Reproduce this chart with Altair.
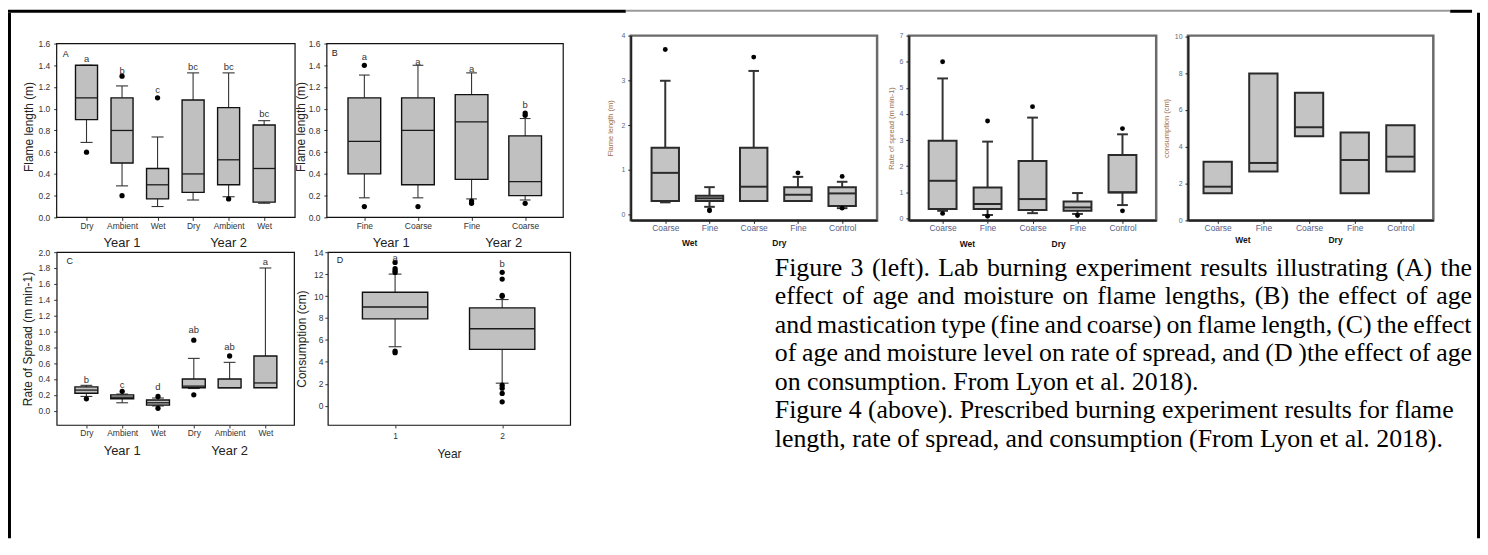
import altair as alt
import pandas as pd

SANS = "Liberation Sans"
SERIF = "Liberation Serif"

# ---------------- Figure 3 (A) flame length, year x moisture ----------------
A_pos = [1, 2, 3, 4, 5, 6]
A_cat = ["Dry", "Ambient", "Wet", "Dry", "Ambient", "Wet"]
A_lw = [0.69, 0.29, 0.10, 0.16, 0.19, 0.13]
A_q1 = [0.90, 0.50, 0.17, 0.23, 0.30, 0.14]
A_med = [1.10, 0.80, 0.30, 0.40, 0.53, 0.45]
A_q3 = [1.40, 1.10, 0.45, 1.08, 1.01, 0.85]
A_uw = [1.40, 1.21, 0.74, 1.33, 1.33, 0.89]
A_out_pos = [1, 2, 2, 3, 5]
A_out_val = [0.60, 0.20, 1.30, 1.10, 0.17]
A_let = ["a", "b", "c", "bc", "bc", "bc"]
A_let_y = [1.46, 1.35, 1.17, 1.38, 1.38, 0.95]
A_years = ["Year 1", "Year 2"]
A_year_pos = [2, 5]

# ---------------- Figure 3 (B) flame length, year x mastication ----------------
B_pos = [1, 2, 3, 4]
B_cat = ["Fine", "Coarse", "Fine", "Coarse"]
B_lw = [0.18, 0.18, 0.17, 0.16]
B_q1 = [0.40, 0.30, 0.35, 0.20]
B_med = [0.70, 0.80, 0.88, 0.33]
B_q3 = [1.10, 1.10, 1.13, 0.75]
B_uw = [1.31, 1.40, 1.33, 0.91]
B_out_pos = [1, 1, 2, 3, 3, 4, 4, 4]
B_out_val = [0.10, 1.40, 0.10, 0.15, 0.13, 0.13, 0.94, 0.96]
B_let = ["a", "a", "a", "b"]
B_let_y = [1.48, 1.43, 1.37, 1.03]
B_years = ["Year 1", "Year 2"]
B_year_pos = [1.5, 3.6]

# ---------------- Figure 3 (C) rate of spread ----------------
C_pos = [1, 2, 3, 4, 5, 6]
C_cat = ["Dry", "Ambient", "Wet", "Dry", "Ambient", "Wet"]
C_lw = [0.18, 0.10, 0.06, 0.28, 0.30, 0.30]
C_q1 = [0.22, 0.15, 0.07, 0.29, 0.29, 0.29]
C_med = [0.26, 0.17, 0.10, 0.31, 0.29, 0.35]
C_q3 = [0.30, 0.20, 0.135, 0.40, 0.40, 0.69]
C_uw = [0.32, 0.21, 0.16, 0.66, 0.61, 1.80]
C_out_pos = [1, 2, 3, 3, 4, 4, 5]
C_out_val = [0.15, 0.245, 0.18, 0.03, 0.20, 0.89, 0.69]
C_let = ["b", "c", "d", "ab", "ab", "a"]
C_let_y = [0.39, 0.32, 0.30, 1.02, 0.80, 1.87]
C_years = ["Year 1", "Year 2"]
C_year_pos = [2, 5]

# ---------------- Figure 3 (D) consumption ----------------
D_pos = [1, 2]
D_cat = ["1", "2"]
D_lw = [5.38, 2.06]
D_q1 = [7.92, 5.14]
D_med = [9.00, 7.02]
D_q3 = [10.34, 8.92]
D_uw = [12.00, 9.68]
D_out_pos = [1, 1, 1, 1, 1, 1, 2, 2, 2, 2, 2, 2, 2, 2]
D_out_val = [4.84, 4.99, 12.15, 12.30, 12.49, 13.06,
             0.36, 1.12, 1.60, 1.87, 9.98, 10.07, 11.55, 12.16]
D_let = ["a", "b"]
D_let_y = [13.5, 12.9]

# ---------------- Figure 4 (prescribed burns) ----------------
F_pos = [1, 2, 3, 4, 5]
F_cat = ["Coarse", "Fine", "Coarse", "Fine", "Control"]
F_groups = ["Wet", "Dry"]
F_group_pos = [1.55, 3.58]

P1_lw = [0.27, 0.17, 0.30, 0.30, 0.14]
P1_q1 = [0.30, 0.30, 0.30, 0.30, 0.19]
P1_med = [0.93, 0.36, 0.62, 0.44, 0.47]
P1_q3 = [1.49, 0.42, 1.49, 0.61, 0.61]
P1_uw = [2.99, 0.61, 3.21, 0.84, 0.73]
P1_out_pos = [1, 2, 2, 3, 4, 5, 5]
P1_out_val = [3.69, 0.10, 0.08, 3.52, 0.93, 0.85, 0.14]

P2_lw = [0.29, 0.13, 0.20, 0.17, 0.51]
P2_q1 = [0.36, 0.36, 0.32, 0.29, 0.99]
P2_med = [1.44, 0.55, 0.74, 0.42, 1.00]
P2_q3 = [2.97, 1.18, 2.20, 0.65, 2.43]
P2_uw = [5.36, 2.94, 3.86, 0.97, 3.22]
P2_out_pos = [1, 1, 2, 2, 3, 4, 5, 5]
P2_out_val = [6.00, 0.19, 3.73, 0.08, 4.28, 0.11, 3.44, 0.29]

P3_q1 = [1.47, 2.65, 4.57, 1.47, 2.65]
P3_med = [1.83, 3.12, 5.06, 3.28, 3.46]
P3_q3 = [3.19, 7.98, 6.94, 4.77, 5.17]

CAPTION = [
    "Figure 3 (left). Lab burning experiment results illustrating (A) the",
    "effect of age and moisture on flame lengths, (B) the effect of age",
    "and mastication type (fine and coarse) on flame length, (C) the effect",
    "of age and moisture level on rate of spread, and (D )the effect of age",
    "on consumption. From Lyon et al. 2018).",
    "Figure 4 (above). Prescribed burning experiment results for flame",
    "length, rate of spread, and consumption (From Lyon et al. 2018).",
]
CAP_JUSTIFIED = [0, 1, 2, 3]

ONE = pd.DataFrame({"k": [0]})

ST3 = dict(fill="#c0c0c0", stroke="#111111", sw=1.4, wh="#333333", wh_sw=1.1,
           med="#1a1a1a", med_sw=1.3, pt=28, lab_size=8.5, lab_color="#333333",
           title_size=12, title_color="#222222", tick_color="#333333",
           let_size=9.5, let_color="#333333", domain=False)
ST4 = dict(fill="#c4c4c4", stroke="#2a2a2a", sw=2.0, wh="#333333", wh_sw=2.0,
           med="#2a2a2a", med_sw=2.0, pt=24, lab_size=8.5, lab_color="#56608a",
           title_size=7.5, title_color="#a0704a", tick_color="#222222",
           let_size=9, let_color="#333333", domain=True)


def make_panel(d, st):
    df = pd.DataFrame({"pos": d["pos"], "q1": d["q1"], "med": d["med"], "q3": d["q3"]})
    if d.get("lw") is not None:
        df["lw"] = d["lw"]
        df["uw"] = d["uw"]
    xs = alt.Scale(domain=d["xdom"], nice=False, zero=False)
    ys = alt.Scale(domain=d["ydom"], nice=False, zero=False)
    label_expr = "[" + ",".join("'%s'" % c for c in d["cats"]) + "][datum.value - 1]"
    xkw = dict(values=d["pos"], labelExpr=label_expr, grid=False, domain=st["domain"],
               domainColor="#222222", domainWidth=2, ticks=True, tickSize=3,
               tickColor=st["tick_color"], labelFont=SANS, labelFontSize=d.get("xlab_size", st["lab_size"]),
               labelColor=st["lab_color"], labelPadding=d.get("xlab_pad", 1),
               labelOverlap=False, labelFlush=False)
    if d.get("xtitle"):
        xkw.update(title=d["xtitle"], titleFont=SANS, titleFontSize=12, titleFontWeight="normal",
                   titleColor=st["title_color"], titlePadding=d.get("xtitle_pad", 9))
    else:
        xkw["title"] = None
    xaxis = alt.Axis(**xkw)
    yaxis = alt.Axis(values=d["yvals"], format=d["yfmt"], grid=False, domain=st["domain"],
                     domainColor="#222222", domainWidth=2, tickSize=3, tickColor=st["tick_color"],
                     labelFont=SANS, labelFontSize=d.get("ylab_size", st["lab_size"]),
                     labelColor=d.get("ylab_color", st["lab_color"]),
                     labelPadding=d.get("ylab_pad", 4), labelOverlap=False, labelFlush=False,
                     title=d["ytitle"], titleFont=SANS, titleFontSize=st["title_size"],
                     titleFontWeight="normal", titleColor=st["title_color"],
                     titlePadding=d.get("ytitle_pad", 3))
    bw, cw = d["bw"], d["cw"]
    base = alt.Chart(df).transform_calculate(
        xl="datum.pos - %f" % (bw / 2), xr="datum.pos + %f" % (bw / 2),
        cl="datum.pos - %f" % (cw / 2), cr="datum.pos + %f" % (cw / 2))
    # every layer carries the same axis definition so the shared axes merge
    X = lambda f: alt.X(f, type="quantitative", scale=xs, axis=xaxis)
    Y = lambda f: alt.Y(f, type="quantitative", scale=ys, axis=yaxis)
    layers = []
    if d.get("frame_top") is not None:
        layers.append(alt.Chart(ONE).mark_rect(filled=False, stroke="#111111", strokeWidth=1.2).encode(
            x=alt.X(datum=d["xdom"][0], type="quantitative", scale=xs, axis=xaxis),
            x2=alt.datum(d["xdom"][1]),
            y=alt.Y(datum=d["ydom"][0], type="quantitative", scale=ys, axis=yaxis),
            y2=alt.datum(d["frame_top"])))
    if d.get("lw") is not None:
        rule = dict(color=st["wh"], strokeWidth=st["wh_sw"])
        layers.append(base.mark_rule(**rule).encode(x=X("pos"), y=Y("lw"), y2="q1:Q"))
        layers.append(base.mark_rule(**rule).encode(x=X("pos"), y=Y("q3"), y2="uw:Q"))
        layers.append(base.mark_rule(**rule).encode(x=X("cl"), x2="cr:Q", y=Y("lw")))
        layers.append(base.mark_rule(**rule).encode(x=X("cl"), x2="cr:Q", y=Y("uw")))
    layers.append(base.mark_rect(fill=st["fill"], stroke=st["stroke"], strokeWidth=st["sw"]).encode(
        x=X("xl"), x2="xr:Q", y=Y("q1"), y2="q3:Q"))
    layers.append(base.mark_rule(color=st["med"], strokeWidth=st["med_sw"]).encode(
        x=X("xl"), x2="xr:Q", y=Y("med")))
    if d.get("out_pos"):
        odf = pd.DataFrame({"pos": d["out_pos"], "val": d["out_val"]})
        layers.append(alt.Chart(odf).mark_circle(color="black", opacity=1, size=st["pt"]).encode(
            x=X("pos"), y=Y("val")))
    if d.get("let"):
        ldf = pd.DataFrame({"pos": d["pos"], "let": d["let"], "ly": d["let_y"]})
        layers.append(alt.Chart(ldf).mark_text(font=SANS, fontSize=st["let_size"], color=st["let_color"],
                                               baseline="middle").encode(
            x=X("pos"), y=Y("ly"), text="let:N"))
    if d.get("groups"):
        gdf = pd.DataFrame({"gpos": d["gpos"], "g": d["groups"]})
        layers.append(alt.Chart(gdf).mark_text(font=SANS, fontSize=d["g_size"], color=d["g_color"],
                                               fontWeight=d["g_weight"], baseline="middle").encode(
            x=X("gpos"), y=alt.value(d["height"] + d["gy"]), text="g:N"))
    if d.get("tag"):
        tdf = pd.DataFrame({"t": [d["tag"]]})
        layers.append(alt.Chart(tdf).mark_text(font=SANS, fontSize=9, color="#222222",
                                               align="left", baseline="middle").encode(
            x=alt.value(d["tag_xy"][0]), y=alt.value(d["tag_xy"][1]), text="t:N"))
    if d.get("frame_top") is not None:
        view = alt.ViewBackground(stroke="transparent", strokeWidth=0)
    else:
        view = alt.ViewBackground(stroke=d.get("view_stroke", "#111111"),
                                  strokeWidth=d.get("view_sw", 1.2))
    return alt.layer(*layers).properties(width=d["width"], height=d["height"], view=view)


panelA = make_panel(dict(
    pos=A_pos, cats=A_cat, lw=A_lw, q1=A_q1, med=A_med, q3=A_q3, uw=A_uw,
    out_pos=A_out_pos, out_val=A_out_val, let=A_let, let_y=A_let_y,
    groups=A_years, gpos=A_year_pos, g_size=13, g_color="#222222", g_weight="normal", gy=26,
    xdom=[0.16, 6.87], ydom=[0, 1.673], frame_top=1.6,
    yvals=[0, 0.2, 0.4, 0.6, 0.8, 1.0, 1.2, 1.4, 1.6], yfmt=".1f",
    ytitle="Flame length (m)", ytitle_pad=3, width=240, height=183, bw=0.62, cw=0.34,
    tag="A", tag_xy=[6, 19]), ST3)

panelB = make_panel(dict(
    pos=B_pos, cats=B_cat, lw=B_lw, q1=B_q1, med=B_med, q3=B_q3, uw=B_uw,
    out_pos=B_out_pos, out_val=B_out_val, let=B_let, let_y=B_let_y,
    groups=B_years, gpos=B_year_pos, g_size=13, g_color="#222222", g_weight="normal", gy=26,
    xdom=[0.30, 4.71], ydom=[0, 1.673], frame_top=1.6,
    yvals=[0, 0.2, 0.4, 0.6, 0.8, 1.0, 1.2, 1.4, 1.6], yfmt=".1f",
    ytitle="Flame length (m)", ytitle_pad=1, width=238, height=183, bw=0.61, cw=0.2,
    tag="B", tag_xy=[5, 18]), ST3)

panelC = make_panel(dict(
    pos=C_pos, cats=C_cat, lw=C_lw, q1=C_q1, med=C_med, q3=C_q3, uw=C_uw,
    out_pos=C_out_pos, out_val=C_out_val, let=C_let, let_y=C_let_y,
    groups=C_years, gpos=C_year_pos, g_size=13, g_color="#222222", g_weight="normal", gy=26,
    xdom=[0.17, 6.8], ydom=[-0.18, 2.0],
    yvals=[0, 0.2, 0.4, 0.6, 0.8, 1.0, 1.2, 1.4, 1.6, 1.8, 2.0], yfmt=".1f",
    ytitle="Rate of Spread (m min-1)", ytitle_pad=4, width=239, height=174, bw=0.64, cw=0.33,
    tag="C", tag_xy=[10, 9]), ST3)

panelD = make_panel(dict(
    pos=D_pos, cats=D_cat, lw=D_lw, q1=D_q1, med=D_med, q3=D_q3, uw=D_uw,
    out_pos=D_out_pos, out_val=D_out_val, let=D_let, let_y=D_let_y,
    xdom=[0.372, 2.635], ydom=[-1.75, 14],
    yvals=[0, 2, 4, 6, 8, 10, 12, 14], yfmt="d", ylab_pad=2, xlab_pad=3.5,
    xtitle="Year", xtitle_pad=9,
    ytitle="Consumption (cm)", ytitle_pad=5, width=244, height=174, bw=0.61, cw=0.12,
    tag="D", tag_xy=[9, 8]), ST3)

f4common = dict(pos=F_pos, cats=F_cat, groups=F_groups, gpos=F_group_pos, g_size=8.5,
                g_color="#111111", g_weight="bold", bw=0.62, cw=0.24, height=186,
                view_stroke="#6a6a6a", view_sw=2.5, ylab_size=7, ylab_color="#5a6a8a",
                xlab_pad=0.5, ylab_pad=3)

panelP1 = make_panel(dict(
    f4common, lw=P1_lw, q1=P1_q1, med=P1_med, q3=P1_q3, uw=P1_uw,
    out_pos=P1_out_pos, out_val=P1_out_val, gy=23,
    xdom=[0.22, 5.79], ydom=[-0.133, 4], yvals=[0, 1, 2, 3, 4], yfmt="d",
    ytitle="Flame length (m)", ytitle_pad=6, width=248), ST4)

panelP2 = make_panel(dict(
    f4common, lw=P2_lw, q1=P2_q1, med=P2_med, q3=P2_q3, uw=P2_uw,
    out_pos=P2_out_pos, out_val=P2_out_val, gy=24,
    xdom=[0.25, 5.75], ydom=[-0.076, 7], yvals=[0, 1, 2, 3, 4, 5, 6, 7], yfmt="d",
    ytitle="Rate of spread (m min-1)", ytitle_pad=4, width=249), ST4)

panelP3 = make_panel(dict(
    f4common, q1=P3_q1, med=P3_med, q3=P3_q3, gy=20,
    xdom=[0.35, 5.72], ydom=[0, 10.04], yvals=[0, 2, 4, 6, 8, 10], yfmt="d",
    ytitle="consumption (cm)", ytitle_pad=4, width=247), ST4)


def blank(w, h, fill=None):
    vb = alt.ViewBackground(fill=fill, stroke=fill, strokeWidth=0) if fill else \
        alt.ViewBackground(stroke="transparent", strokeWidth=0)
    return alt.Chart(ONE).mark_rule(strokeOpacity=0).encode(
        x=alt.value(0.5), y=alt.value(0.5), y2=alt.value(1)).properties(width=w, height=h, view=vb)


gapP = blank(4, 183)

# ---- caption, justified word by word (Times metrics, 1/1000 em) ----
TIMES_W = {" ": 250, "a": 444, "b": 500, "c": 444, "d": 500, "e": 444, "f": 333, "g": 500,
           "h": 500, "i": 278, "j": 278, "k": 500, "l": 278, "m": 778, "n": 500, "o": 500,
           "p": 500, "q": 500, "r": 333, "s": 389, "t": 278, "u": 500, "v": 500, "w": 722,
           "x": 500, "y": 500, "z": 444, "A": 722, "B": 667, "C": 667, "D": 722, "F": 556,
           "L": 611, "P": 556, "(": 333, ")": 333, ",": 250, ".": 250, "-": 333}
CAP_SIZE = 26
CAP_X0, CAP_X1 = 172, 874


def text_w(s):
    return sum(TIMES_W.get(ch, 500) for ch in s) * CAP_SIZE / 1000.0


cap_rows = []
for i, line in enumerate(CAPTION):
    if i in CAP_JUSTIFIED:
        words = line.split(" ")
        total = sum(text_w(w) for w in words)
        gap = (CAP_X1 - CAP_X0 - total) / (len(words) - 1)
        x = CAP_X0
        for w in words:
            cap_rows.append({"line": i, "txt": w, "xp": x})
            x += text_w(w) + gap
    else:
        cap_rows.append({"line": i, "txt": line, "xp": CAP_X0})
cap_df = pd.DataFrame(cap_rows)

CAP_W = 876
caption = alt.Chart(cap_df).mark_text(align="left", baseline="middle", font=SERIF, fontSize=CAP_SIZE,
                                      color="#000000").encode(
    x=alt.X("xp:Q", scale=alt.Scale(domain=[0, CAP_W], nice=False, zero=False), axis=None),
    y=alt.Y("line:Q", scale=alt.Scale(domain=[6.45, -0.55], nice=False, zero=False), axis=None),
    text="txt:N").properties(width=CAP_W, height=201,
                             view=alt.ViewBackground(stroke="transparent", strokeWidth=0))

row1 = alt.hconcat(panelA, panelB, gapP, panelP1, panelP2, panelP3, spacing=32, bounds="flush")
row2 = alt.hconcat(panelC, panelD, caption, spacing=34, bounds="flush")
rows = alt.vconcat(row1, row2, spacing=-3)
content = alt.vconcat(blank(1, 16.5), rows, spacing=0)

leftBar = blank(3, 529, fill="#000000")
rightBar = blank(3, 529, fill="#000000")
mainRow = alt.hconcat(leftBar, alt.hconcat(content, rightBar, spacing=3), spacing=9)

topBar = alt.layer(
    alt.Chart(ONE).mark_rect(color="#000000").encode(
        x=alt.value(0), x2=alt.value(622), y=alt.value(0), y2=alt.value(3)),
    alt.Chart(ONE).mark_rect(color="#9a9a9a").encode(
        x=alt.value(622), x2=alt.value(1452), y=alt.value(0), y2=alt.value(2)),
    alt.Chart(ONE).mark_rect(color="#000000").encode(
        x=alt.value(1452), x2=alt.value(1474), y=alt.value(0), y2=alt.value(3)),
).properties(width=1474, height=3, view=alt.ViewBackground(stroke="transparent", strokeWidth=0))

chart = alt.vconcat(topBar, mainRow, spacing=0, padding=0).configure(font=SANS)

chart.save("out.html", embed_options={"renderer": "svg", "actions": False})
